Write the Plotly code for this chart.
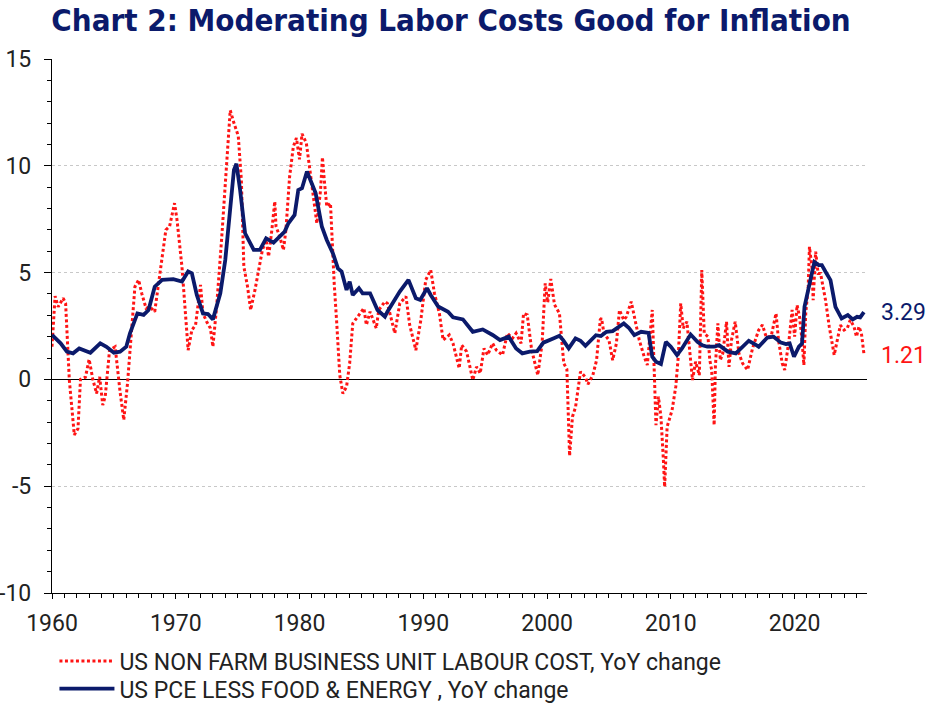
import plotly.graph_objects as go

# ---------------- data ----------------
pce_years = [1960.0, 1960.7, 1961.2, 1961.7, 1962.2, 1962.6, 1963.1, 1963.9, 1964.4, 1965.0,
             1965.5, 1966.0, 1966.3, 1966.9, 1967.4, 1967.8, 1968.3, 1968.9, 1969.8, 1970.5,
             1971.0, 1971.3, 1971.7, 1972.2, 1972.6, 1973.0, 1973.6, 1974.0, 1974.4, 1974.7,
             1974.9, 1975.2, 1975.6, 1976.3, 1976.8, 1977.3, 1977.9, 1978.4, 1978.8, 1979.1,
             1979.6, 1979.9, 1980.2, 1980.6, 1981.3, 1981.8, 1982.2, 1982.7, 1983.1, 1983.4,
             1983.8, 1984.05, 1984.3, 1984.8, 1985.1, 1985.7, 1986.3, 1986.9, 1987.1, 1988.1,
             1988.8, 1989.4, 1989.75, 1990.3, 1990.6, 1991.2, 1992.0, 1992.4, 1993.2, 1994.0,
             1994.8, 1995.6, 1996.2, 1996.9, 1997.5, 1998.0, 1998.6, 1999.2, 1999.7, 2000.5,
             2001.0, 2001.3, 2001.75, 2002.3, 2002.7, 2003.1, 2003.95, 2004.35, 2004.8, 2005.3,
             2005.7, 2006.2, 2006.6, 2007.05, 2007.6, 2008.2, 2008.5, 2008.8, 2009.2, 2009.6,
             2010.0, 2010.5, 2010.9, 2011.6, 2012.15, 2012.55, 2012.95, 2013.5, 2013.9, 2014.6,
             2015.25, 2015.65, 2016.3, 2016.7, 2017.1, 2017.8, 2018.3, 2018.9, 2019.3, 2019.6,
             2019.95, 2020.35, 2020.6, 2020.8, 2021.15, 2021.6, 2021.95, 2022.2, 2022.5, 2022.9,
             2023.3, 2023.8, 2024.3, 2024.7, 2025.05, 2025.3, 2025.6]
pce_values = [2.08, 1.69, 1.3, 1.22, 1.45, 1.35, 1.25, 1.69, 1.53, 1.25,
              1.3, 1.53, 2.16, 3.09, 3.02, 3.25, 4.34, 4.66, 4.69, 4.58,
              5.05, 4.97, 3.95, 3.09, 3.06, 2.81, 4.03, 5.59, 8.09, 9.81,
              10.1, 8.87, 6.84, 6.06, 6.06, 6.6, 6.4, 6.69, 6.92, 7.31,
              7.7, 8.87, 8.95, 9.73, 8.72, 7.16, 6.53, 5.9, 5.2, 5.05,
              4.19, 4.58, 3.95, 4.27, 4.03, 4.03, 3.25, 2.94, 3.17, 4.11,
              4.66, 3.8, 3.72, 4.27, 3.95, 3.41, 3.17, 2.91, 2.81, 2.23,
              2.34, 2.08, 1.84, 2.0, 1.45, 1.22, 1.3, 1.32, 1.72, 1.92,
              2.04, 1.84, 1.45, 1.92, 1.81, 1.57, 2.07, 2.03, 2.23, 2.26,
              2.42, 2.62, 2.42, 2.07, 2.23, 2.18, 1.06, 0.83, 0.72, 1.76,
              1.53, 1.14, 1.45, 2.1, 1.76, 1.6, 1.53, 1.53, 1.6, 1.3,
              1.22, 1.45, 1.81, 1.68, 1.53, 1.96, 2.0, 1.72, 1.65, 1.68,
              1.06, 1.53, 1.68, 3.4, 4.33, 5.5, 5.35, 5.35, 5.04, 4.65,
              3.4, 2.85, 3.01, 2.81, 2.93, 2.9, 3.15]

ulc_years = [1960.0, 1960.25, 1960.5, 1960.9, 1961.1, 1961.4, 1961.8, 1962.1, 1962.3, 1962.7,
             1963.0, 1963.3, 1963.6, 1963.85, 1964.1, 1964.3, 1964.65, 1965.1, 1965.5, 1965.8,
             1966.1, 1966.4, 1966.7, 1967.0, 1967.25, 1967.6, 1967.9, 1968.3, 1968.7, 1969.2,
             1969.5, 1969.9, 1970.1, 1970.5, 1970.8, 1971.0, 1971.3, 1971.6, 1972.0, 1972.2,
             1972.5, 1972.8, 1973.0, 1973.3, 1973.7, 1974.1, 1974.4, 1974.7, 1975.05, 1975.3,
             1975.5, 1975.8, 1976.05, 1976.4, 1976.7, 1977.0, 1977.3, 1977.5, 1977.75, 1978.0,
             1978.1, 1978.4, 1978.7, 1978.9, 1979.2, 1979.5, 1979.75, 1980.0, 1980.2, 1980.55,
             1980.8, 1981.1, 1981.4, 1981.7, 1981.85, 1982.0, 1982.2, 1982.5, 1982.65, 1982.8,
             1983.0, 1983.25, 1983.5, 1983.8, 1984.05, 1984.3, 1984.7, 1985.2, 1985.4, 1985.7,
             1985.9, 1986.2, 1986.4, 1986.9, 1987.1, 1987.7, 1988.1, 1988.6, 1988.9, 1989.4,
             1989.8, 1990.2, 1990.6, 1990.9, 1991.3, 1991.6, 1992.1, 1992.4, 1992.9, 1993.1,
             1993.5, 1993.7, 1994.0, 1994.3, 1994.6, 1994.9, 1995.2, 1995.6, 1995.9, 1996.4,
             1996.8, 1997.2, 1997.5, 1997.9, 1998.1, 1998.4, 1998.75, 1999.25, 1999.6, 1999.85,
             2000.05, 2000.3, 2000.6, 2001.0, 2001.1, 2001.35, 2001.6, 2001.82, 2002.05, 2002.3,
             2002.7, 2003.1, 2003.3, 2003.7, 2004.0, 2004.3, 2004.4, 2004.6, 2005.0, 2005.3,
             2005.6, 2005.85, 2006.2, 2006.4, 2006.8, 2007.1, 2007.45, 2007.85, 2008.1, 2008.5,
             2008.7, 2008.8, 2009.0, 2009.2, 2009.4, 2009.5, 2009.7, 2010.1, 2010.4, 2010.6,
             2010.8, 2011.0, 2011.3, 2011.5, 2011.75, 2012.0, 2012.3, 2012.4, 2012.5, 2012.7,
             2013.0, 2013.15, 2013.3, 2013.5, 2013.6, 2013.8, 2014.0, 2014.2, 2014.5, 2014.7,
             2014.9, 2015.2, 2015.5, 2015.8, 2016.2, 2016.6, 2017.1, 2017.4, 2017.7, 2018.1,
             2018.5, 2018.7, 2019.0, 2019.2, 2019.55, 2019.8, 2020.0, 2020.2, 2020.4, 2020.6,
             2020.75, 2020.9, 2021.1, 2021.2, 2021.4, 2021.5, 2021.7, 2021.9, 2022.1, 2022.3,
             2022.5, 2022.8, 2023.2, 2023.45, 2023.7, 2024.0, 2024.25, 2024.5, 2024.8, 2025.0,
             2025.2, 2025.4, 2025.6]
ulc_values = [1.53, 3.9, 3.4, 3.8, 3.56, -0.03, -2.6, -2.3, 0.0, 0.1,
              0.94, 0.0, -0.66, 0.12, -1.2, -0.8, 1.37, 1.53, -0.58, -1.9,
              -0.19, 2.31, 4.34, 4.66, 4.03, 3.33, 3.4, 3.17, 4.97, 7.0,
              7.16, 8.25, 7.47, 5.28, 2.94, 1.37, 2.31, 2.55, 4.42, 3.09,
              2.7, 2.39, 1.53, 3.4, 6.53, 10.1, 12.6, 12.0, 11.4, 9.34,
              5.28, 4.34, 3.25, 4.19, 5.2, 6.06, 6.53, 5.75, 6.92, 8.33,
              7.16, 6.69, 6.06, 7.0, 9.5, 10.9, 11.3, 10.3, 11.5, 11.06,
              9.97, 8.56, 7.3, 8.87, 10.4, 9.34, 8.09, 8.25, 6.3, 4.5,
              2.7, 0.2, -0.66, -0.34, 0.75, 2.62, 2.94, 3.33, 2.55, 3.17,
              2.86, 2.39, 3.25, 3.64, 3.56, 2.16, 3.56, 3.88, 2.55, 1.37,
              2.78, 4.66, 5.12, 4.03, 3.09, 1.84, 2.08, 1.69, 0.52, 1.61,
              1.3, 0.75, -0.03, 0.59, 0.28, 1.45, 1.14, 1.69, 1.37, 1.14,
              2.16, 1.92, 2.16, 1.69, 3.09, 3.02, 1.4, 0.2, 1.69, 4.5,
              3.6, 4.7, 3.5, 3.09, 2.47, 0.75, 0.48, -3.58, -1.75, -1.3,
              0.36, 0.1, -0.23, 0.2, 0.9, 2.8, 2.86, 2.15, 1.84, 0.9,
              1.68, 3.25, 2.78, 2.93, 3.64, 2.78, 1.84, 1.06, 0.67, 3.25,
              -0.97, -2.14, -0.81, -1.75, -3.78, -5.03, -2.22, -1.44, -0.34, 1.06,
              3.56, 2.39, 2.7, 1.37, -0.03, 0.83, 0.2, 2.47, 5.12, 2.15,
              2.0, 0.9, 0.44, -2.14, 0.59, 2.62, 0.9, 1.22, 2.7, 0.59,
              1.84, 2.7, 1.22, 0.75, 0.44, 1.45, 2.31, 2.55, 2.0, 2.0,
              3.09, 1.84, 0.75, 0.44, 1.84, 3.25, 2.0, 3.48, 2.93, 1.84,
              0.67, 3.09, 4.33, 6.21, 5.27, 3.71, 5.98, 4.96, 4.96, 4.33,
              3.71, 2.47, 1.14, 1.84, 2.54, 2.31, 2.39, 2.78, 2.47, 2.0,
              2.47, 2.15, 1.21]

ulc_name = "US NON FARM BUSINESS UNIT LABOUR COST, YoY change"
pce_name = "US PCE LESS FOOD & ENERGY , YoY change"
pce_last_label = "3.29"
ulc_last_label = "1.21"
x_tick_vals = [1960, 1970, 1980, 1990, 2000, 2010, 2020]
y_tick_vals = [-10, -5, 0, 5, 10, 15]
y_tick_text = ["-10", "-5", "0", "5", "10", "15"]
title_text = "Chart 2: Moderating Labor Costs Good for Inflation"

# ---------------- style ----------------
NAVY = "#0b1a6b"
RED = "#ff1414"
TITLE_FONT = "DejaVu Sans Condensed, DejaVu Sans, sans-serif"
TICK_FONT = "Roboto, sans-serif"
LEG_FONT = dict(family=TICK_FONT, size=23, color="#222222")

fig = go.Figure()
fig.add_trace(go.Scatter(x=ulc_years, y=ulc_values, mode="lines", name=ulc_name,
                         legend="legend",
                         line=dict(color=RED, width=3, dash="3px,2.5px")))
fig.add_trace(go.Scatter(x=pce_years, y=pce_values, mode="lines", name=pce_name,
                         legend="legend2",
                         line=dict(color=NAVY, width=3.8)))

fig.add_annotation(xref="paper", x=1.0, xanchor="left", xshift=12,
                   yref="y", y=pce_values[-1], yanchor="middle",
                   text=pce_last_label, showarrow=False,
                   font=dict(family="Roboto, sans-serif", size=23, color=NAVY))
fig.add_annotation(xref="paper", x=1.0, xanchor="left", xshift=12,
                   yref="y", y=ulc_values[-1] - 0.1, yanchor="middle",
                   text=ulc_last_label, showarrow=False,
                   font=dict(family="Roboto, sans-serif", size=23, color=RED))

fig.update_layout(
    width=928, height=703,
    margin=dict(l=52, r=61, t=59, b=110, autoexpand=False),
    paper_bgcolor="white", plot_bgcolor="white",
    title=dict(text="<b>" + title_text + "</b>", x=0.486, xanchor="center",
               y=0.971, yanchor="middle",
               font=dict(family=TITLE_FONT, size=31, color=NAVY)),
    showlegend=True,
    legend=dict(orientation="v", x=0.003, xanchor="left", y=-0.087, yanchor="top",
                font=LEG_FONT, bgcolor="rgba(0,0,0,0)", itemwidth=55),
    legend2=dict(orientation="v", x=0.003, xanchor="left", y=-0.139, yanchor="top",
                 font=LEG_FONT, bgcolor="rgba(0,0,0,0)", itemwidth=55),
    font=dict(family=TICK_FONT, color="#222222"),
)

fig.update_xaxes(range=[1960, 2025.85], tickvals=x_tick_vals,
                 ticktext=[str(v) for v in x_tick_vals],
                 ticks="outside", ticklen=5, tickcolor="black", tickwidth=1,
                 minor=dict(dtick=1, tick0=1960, ticks="outside", ticklen=4, tickcolor="black"),
                 showline=True, linecolor="black", linewidth=1.2,
                 showgrid=False, zeroline=False, automargin=False,
                 ticklabelstandoff=4,
                 tickfont=dict(family=TICK_FONT, size=23, color="#222222"))
fig.update_yaxes(range=[-10, 15], tickvals=y_tick_vals, ticktext=y_tick_text,
                 ticks="outside", ticklen=7, tickcolor="black", tickwidth=1,
                 minor=dict(dtick=1, tick0=0, ticks="outside", ticklen=4, tickcolor="black",
                            showgrid=False),
                 showline=True, linecolor="black", linewidth=1.2,
                 showgrid=True, gridcolor="#c8c8c8", griddash="dot", gridwidth=1,
                 zeroline=True, zerolinecolor="black", zerolinewidth=1.2,
                 automargin=False,
                 ticklabelstandoff=8,
                 tickfont=dict(family=TICK_FONT, size=23, color="#222222"))

fig.write_html("out.html")
